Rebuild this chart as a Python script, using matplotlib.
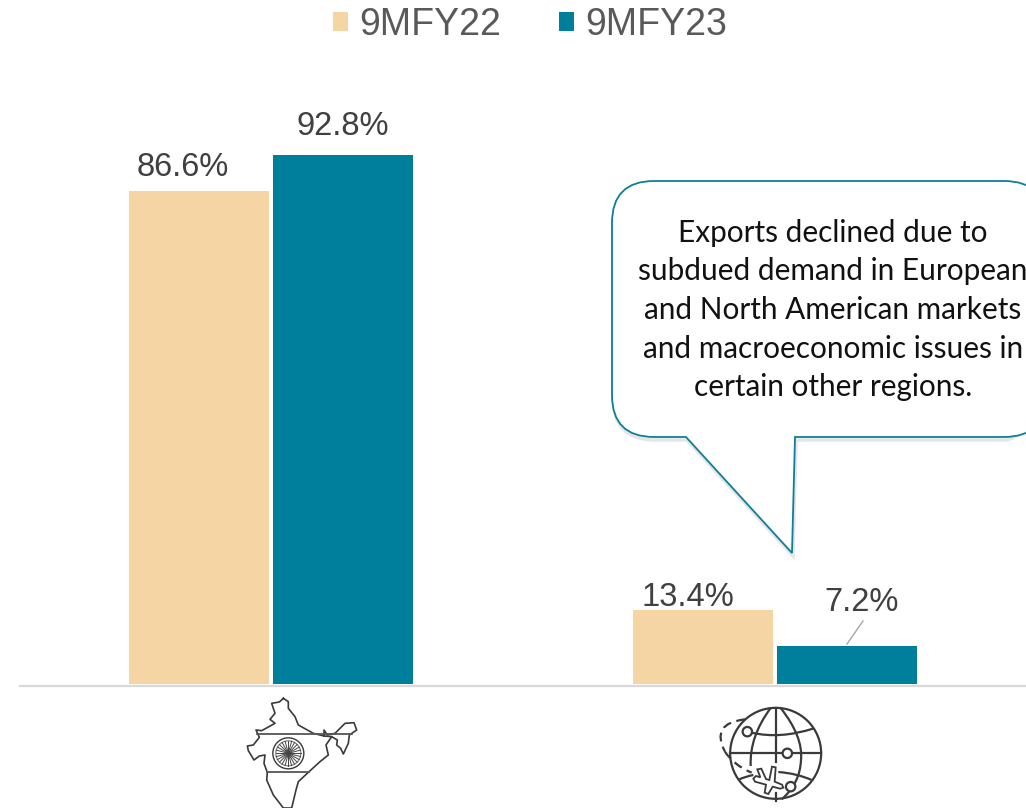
import numpy as np
import matplotlib
matplotlib.use("Agg")
import matplotlib.pyplot as plt
from matplotlib.patches import Circle, PathPatch, Polygon
from matplotlib.path import Path

series_names = ["9MFY22", "9MFY23"]
fy22 = [86.6, 13.4]
fy23 = [92.8, 7.2]
callout_text = ("Exports declined due to\nsubdued demand in European\n"
                "and North American markets\nand macroeconomic issues in\n"
                "certain other regions.")

TAN = "#F5D5A4"
TEAL = "#007F9C"
ICON = "#3a3a3a"
W, H = 1026, 808
px_per_unit = 5.736
zero_px = 687.3   # the value axis starts just above zero in the source
base_px = 684

plt.rcParams['font.family'] = ['Liberation Sans', 'DejaVu Sans']
fig = plt.figure(figsize=(W / 100, H / 100), dpi=100)
ax = fig.add_axes([0, (H - base_px) / H, 1, base_px / H])
ax.set_xlim(-271 / 504, (W - 271) / 504)
ax.set_ylim((zero_px - base_px) / px_per_unit, zero_px / px_per_unit)
ax.axis("off")

x = np.arange(len(fy22))
bars22 = ax.bar(x - 72 / 504, fy22, 140 / 504, color=TAN, label=series_names[0])
bars23 = ax.bar(x + 72 / 504, fy23, 140 / 504, color=TEAL, label=series_names[1])

# labels sit off-centre in the source, shift given in pixels
shift22 = [(-16, 8), (-15, -3)]
shift23 = [(0, 13), (15, 28)]
for bars, shifts in ((bars22, shift22), (bars23, shift23)):
    for b, s in zip(bars, shifts):
        v = b.get_height()
        ax.annotate(f"{v}%", (b.get_x() + b.get_width() / 2, v),
                    xytext=(s[0] * 0.72, s[1] * 0.72), textcoords="offset points",
                    ha="center", va="bottom", fontsize=23.5, color="#404040")

fig.legend(handles=[bars22, bars23], loc="upper left", bbox_to_anchor=(299 / W, 1 + 27 / H), ncol=2,
           frameon=False, fontsize=27, labelcolor="#595959", handlelength=0.4, handleheight=0.4,
           handletextpad=0.3, columnspacing=1.55)

# overlay in pixel coordinates for the furniture and the drawn icons
ov = fig.add_axes([0, 0, 1, 1], facecolor="none")
ov.set_xlim(0, W)
ov.set_ylim(H, 0)
ov.axis("off")

ov.plot([20, W], [685.5, 685.5], color="#D9D9D9", lw=1.6)
ov.plot([847, 863], [644, 621], color="#A6A6A6", lw=1)


def callout_path(dx=0, dy=0):
    l, r, t, b, c = 612 + dx, 1046 + dx, 181 + dy, 437 + dy, 42
    verts = [(l + c, t), (r - c, t), (r, t), (r, t + c), (r, b - c), (r, b), (r - c, b),
             (795 + dx, b), (792 + dx, 553 + dy), (686 + dx, b),
             (l + c, b), (l, b), (l, b - c), (l, t + c), (l, t), (l + c, t)]
    codes = [Path.MOVETO, Path.LINETO, Path.CURVE3, Path.CURVE3, Path.LINETO, Path.CURVE3, Path.CURVE3,
             Path.LINETO, Path.LINETO, Path.LINETO,
             Path.LINETO, Path.CURVE3, Path.CURVE3, Path.LINETO, Path.CURVE3, Path.CURVE3]
    return Path(verts, codes)


ov.add_patch(PathPatch(callout_path(1, 3), fc="none", ec="#000000", lw=2.5, alpha=0.10))
ov.add_patch(PathPatch(callout_path(), fc="white", ec="#0E7F96", lw=1.3))
ov.text(833, 310, callout_text, ha="center", va="center", fontsize=21.4, color="#111111",
        family="Lato", linespacing=1.46)


def india(p):
    return [(220 + a / 3, 680 + b / 3) for a, b in p]


outline = [(190, 55), (178, 66), (155, 70), (165, 100), (150, 118), (165, 130), (125, 152), (108, 150),
           (118, 172), (100, 195), (82, 198), (85, 212), (102, 240), (118, 228), (135, 225), (132, 250),
           (142, 278), (140, 300), (160, 345), (190, 384), (215, 384), (228, 330), (235, 305), (265, 277),
           (300, 245), (325, 225), (318, 195), (335, 170), (312, 168), (280, 160), (235, 135), (225, 110),
           (205, 85), (205, 65), (190, 55)]
north_east = [(312, 168), (312, 150), (322, 165), (345, 160), (375, 130), (402, 128), (410, 150), (388, 165),
              (385, 190), (370, 222), (362, 205), (350, 195), (352, 180), (335, 170)]
for part in (outline, north_east):
    xs, ys = zip(*india(part))
    ov.plot(xs, ys, color=ICON, lw=1.2)
for y0, a, b in ((163, 110, 395), (277, 140, 268)):
    xs, ys = zip(*india([(a, y0), (b, y0)]))
    ov.plot(xs, ys, color="#555555", lw=1.3)
wheel = india([(205, 220)])[0]
ov.add_patch(Circle(wheel, 15.5, fc="none", ec=ICON, lw=1))
ov.add_patch(Circle(wheel, 12.5, fc="none", ec="#777777", lw=0.8))
for t in np.linspace(0, 2 * np.pi, 24, endpoint=False):
    ov.plot([wheel[0], wheel[0] + 12.5 * np.cos(t)], [wheel[1], wheel[1] + 12.5 * np.sin(t)],
            color="#444444", lw=0.7)


def g(a, b):
    return (700 + a / 3, 680 + b / 3)


def curve(p0, c, p1, **kw):
    ov.add_patch(PathPatch(Path([g(*p0), g(*c), g(*p1)], [Path.MOVETO, Path.CURVE3, Path.CURVE3]),
                           fc="none", ec=ICON, lw=1.6, **kw))


ov.add_patch(Circle(g(227, 220), 45.5, fc="none", ec=ICON, lw=1.6))
for seg in ([(90, 220), (362, 220)], [(227, 84), (227, 245)], [(227, 338), (227, 362)]):
    xs, ys = zip(*[g(*p) for p in seg])
    ov.plot(xs, ys, color=ICON, lw=1.6)
curve((212, 84), (148, 170), (152, 258))
curve((242, 84), (310, 170), (303, 240))
curve((303, 240), (300, 310), (245, 358))
curve((155, 158), (240, 178), (342, 145))
curve((118, 298), (135, 290), (160, 285))
curve((235, 276), (290, 280), (335, 300))
curve((135, 118), (30, 130), (75, 215), ls=(0, (4, 2.5)))
curve((75, 215), (100, 255), (155, 278), ls=(0, (4, 2.5)))
for c in ((142, 155), (262, 220), (272, 320)):
    ov.add_patch(Circle(g(*c), 4.7, fc="white", ec=ICON, lw=1.6, zorder=3))
plane = [(160, 296), (168, 288), (181, 292), (172, 268), (184, 266), (198, 297), (208, 300), (216, 260),
         (227, 262), (224, 305), (246, 314), (250, 323), (240, 326), (218, 320), (205, 342), (194, 338),
         (198, 314), (165, 305)]
ov.add_patch(Polygon([g(*p) for p in plane], closed=True, fc="white", ec=ICON, lw=1.3, zorder=3))

fig.savefig("out.png", dpi=100)
